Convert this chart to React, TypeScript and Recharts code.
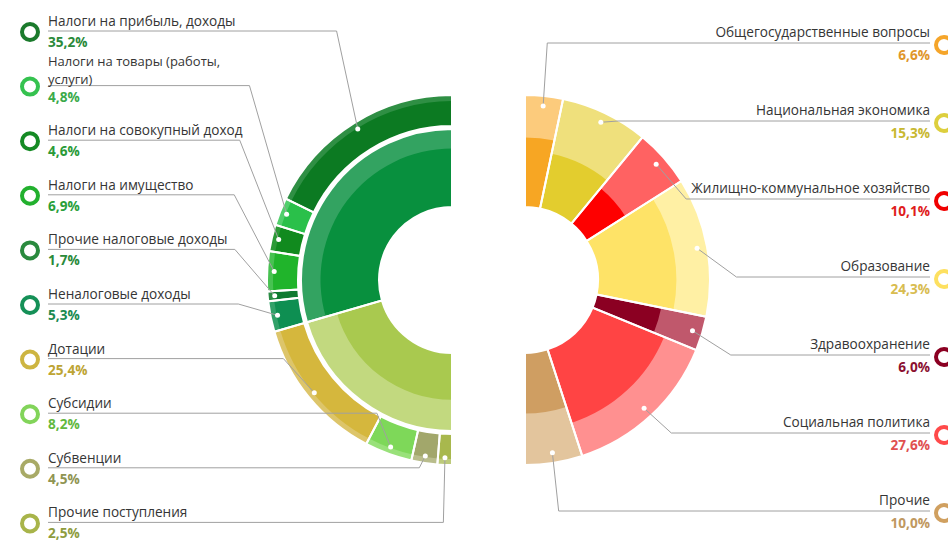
import { PieChart, Pie, Cell } from 'recharts';

// Доходы: наружное кольцо (по статьям), доли в %
const incomeNames = [
  'Налоги на прибыль, доходы',
  'Налоги на товары (работы,\nуслуги)',
  'Налоги на совокупный доход',
  'Налоги на имущество',
  'Прочие налоговые доходы',
  'Неналоговые доходы',
  'Дотации',
  'Субсидии',
  'Субвенции',
  'Прочие поступления',
];
const incomeShares = [35.2, 4.8, 4.6, 6.9, 1.7, 5.3, 25.4, 8.2, 4.5, 2.5];
const incomeLabels = ['35,2%', '4,8%', '4,6%', '6,9%', '1,7%', '5,3%', '25,4%', '8,2%', '4,5%', '2,5%'];
// 0 — налоговые и неналоговые, 1 — безвозмездные поступления
const incomeGroups = [0, 0, 0, 0, 0, 0, 1, 1, 1, 1];
const groupNames = ['Налоговые и неналоговые доходы', 'Безвозмездные поступления'];
const groupExec = [0.75, 0.6];

// Расходы
const spendNames = [
  'Общегосударственные вопросы',
  'Национальная экономика',
  'Жилищно-коммунальное хозяйство',
  'Образование',
  'Здравоохранение',
  'Социальная политика',
  'Прочие',
];
const spendShares = [6.6, 15.3, 10.1, 24.3, 6.0, 27.6, 10.0];
const spendLabels = ['6,6%', '15,3%', '10,1%', '24,3%', '6,0%', '27,6%', '10,0%'];
const spendExec = [0.62, 0.5, 0.41, 0.7, 0.59, 0.69, 0.54];

// цвета
const incomeDark = ['#0c7a22', '#2ac04a', '#118a1e', '#20b42b', '#0e7a30', '#0e8f52', '#d5b73d', '#7ed859', '#a2a76b', '#a8b84d'];
const incomeLight = ['#2f8f44', '#52cf6c', '#2c9a37', '#47c251', '#2b8c45', '#31a169', '#ddc56a', '#99e17a', '#b9bd8c', '#bdca7b'];
const incomeRing = ['#1b7a2c', '#35c24f', '#158a24', '#22b02e', '#2a8a3e', '#159057', '#cdb541', '#82d45a', '#a8aa66', '#a8b44a'];
const incomeValue = ['#2a8a3a', '#3aaa4a', '#2a9a38', '#2aa03a', '#2a8a3a', '#1a8a50', '#bda433', '#62b83e', '#8f9452', '#8e9c3e'];
const groupDark = ['#08903e', '#a9c94f'];
const groupLight = ['#33a361', '#c2d97f'];

const spendDark = ['#f7a623', '#e3cd2e', '#fe0000', '#fee367', '#8b0022', '#ff4444', '#cf9e62'];
const spendLight = ['#fccb7c', '#efe07c', '#ff6262', '#fff0a4', '#c0586c', '#ff9090', '#e3c59d'];
const spendRing = ['#f5a52a', '#ddcf3e', '#f00000', '#fde060', '#8b0022', '#ff4a4a', '#d0a060'];
const spendValue = ['#e0962a', '#c8b830', '#e01c1c', '#d8bc50', '#8b1030', '#e05050', '#c09860'];

const LCX = 452;
const RCX = 525;
const CY = 280;
const HOLE = 73;
const IN_OUT = 151;
const OUT_IN = 154;
const OUT_OUT = 185;
const RADIAN = Math.PI / 180;
const FONT = "'Open Sans', 'Noto Sans', sans-serif";
const FS = 13.6;

const incomeData = incomeNames.map((name, i) => ({ name, value: incomeShares[i] }));
const groupData = groupNames.map((name, g) => ({
  name,
  value: incomeShares.reduce((s, v, i) => (incomeGroups[i] === g ? s + v : s), 0),
}));
const spendData = spendNames.map((name, i) => ({ name, value: spendShares[i] }));

function makeLabel(side: 'left' | 'right') {
  return (p: any) => {
    const { cx, cy, midAngle, outerRadius, index } = p;
    const cos = Math.cos(-midAngle * RADIAN);
    const sin = Math.sin(-midAngle * RADIAN);
    const r = outerRadius - (side === 'left' ? 7 : 10);
    const dx = cx + r * cos;
    const dy = cy + r * sin;
    const lineY = side === 'left' ? 31 + index * 54.6 : 43 + index * 78;
    const ex = dx + 40 * cos;
    const tx = side === 'left' ? 48 : 930;
    const names = (side === 'left' ? incomeNames[index] : spendNames[index]).split('\n');
    const value = side === 'left' ? incomeLabels[index] : spendLabels[index];
    const anchor = side === 'left' ? 'start' : 'end';
    const multi = names.length > 1;
    const step = 18;
    const lastY = lineY - (side === 'left' ? (multi ? 1.6 : 5) : 6);
    return (
      <g key={`lbl-${side}-${index}`}>
        <polyline
          points={`${dx},${dy} ${ex},${lineY} ${tx},${lineY}`}
          fill="none"
          stroke="#a0a0a0"
          strokeWidth={1}
        />
        <circle cx={dx} cy={dy} r={2.5} fill="#fff" />
        <circle
          cx={side === 'left' ? 30 : 944}
          cy={lineY + (side === 'left' ? 1 : 2)}
          r={8}
          fill="none"
          stroke={side === 'left' ? incomeRing[index] : spendRing[index]}
          strokeWidth={4}
        />
        {names.map((t, k) => (
          <text
            key={k}
            x={tx}
            y={lastY - (names.length - 1 - k) * step}
            textAnchor={anchor}
            fontFamily={FONT}
            fontSize={multi ? 13 : FS}
            fill="#353535"
          >
            {t}
          </text>
        ))}
        <text
          x={tx}
          y={lineY + (side === 'left' ? 16 : 17)}
          textAnchor={anchor}
          fontFamily={FONT}
          fontSize={FS}
          fontWeight="bold"
          fill={side === 'left' ? incomeValue[index] : spendValue[index]}
        >
          {value}
        </text>
      </g>
    );
  };
}

export default function App() {
  return (
    <div style={{ position: 'absolute', left: 0, top: 0, background: '#fff' }}>
      <PieChart width={948} height={542} margin={{ top: 0, right: 0, bottom: 0, left: 0 }}>
        {/* доходы: внутреннее кольцо */}
        <Pie data={groupData} dataKey="value" cx={LCX} cy={CY} innerRadius={HOLE} outerRadius={IN_OUT}
          startAngle={90} endAngle={270} stroke="none" isAnimationActive={false}>
          {groupData.map((_, i) => <Cell key={i} fill={groupLight[i]} />)}
        </Pie>
        {groupNames.map((_, g) => (
          <Pie key={`gx-${g}`} data={groupData} dataKey="value" cx={LCX} cy={CY} innerRadius={HOLE}
            outerRadius={HOLE + groupExec[g] * (IN_OUT - HOLE)} startAngle={90} endAngle={270}
            stroke="none" isAnimationActive={false}>
            {groupData.map((_, i) => <Cell key={i} fill={i === g ? groupDark[i] : 'transparent'} />)}
          </Pie>
        ))}
        <Pie data={groupData} dataKey="value" cx={LCX} cy={CY} innerRadius={HOLE} outerRadius={IN_OUT}
          startAngle={90} endAngle={270} isAnimationActive={false}>
          {groupData.map((_, i) => <Cell key={i} fill="none" stroke="#fff" strokeWidth={2} />)}
        </Pie>

        {/* доходы: наружное кольцо */}
        <Pie data={incomeData} dataKey="value" cx={LCX} cy={CY} innerRadius={OUT_IN} outerRadius={OUT_OUT}
          startAngle={90} endAngle={270} stroke="none" isAnimationActive={false}>
          {incomeData.map((_, i) => <Cell key={i} fill={incomeLight[i]} />)}
        </Pie>
        <Pie data={incomeData} dataKey="value" cx={LCX} cy={CY} innerRadius={OUT_IN} outerRadius={OUT_OUT - 6}
          startAngle={90} endAngle={270} stroke="none" isAnimationActive={false}>
          {incomeData.map((_, i) => <Cell key={i} fill={incomeDark[i]} />)}
        </Pie>
        <Pie data={incomeData} dataKey="value" cx={LCX} cy={CY} innerRadius={OUT_IN} outerRadius={OUT_OUT}
          startAngle={90} endAngle={270} isAnimationActive={false} labelLine={false} label={makeLabel('left')}>
          {incomeData.map((_, i) => <Cell key={i} fill="none" stroke="#fff" strokeWidth={2} />)}
        </Pie>

        {/* расходы */}
        <Pie data={spendData} dataKey="value" cx={RCX} cy={CY} innerRadius={HOLE} outerRadius={OUT_OUT}
          startAngle={90} endAngle={-90} stroke="none" isAnimationActive={false}>
          {spendData.map((_, i) => <Cell key={i} fill={spendLight[i]} />)}
        </Pie>
        {spendNames.map((_, g) => (
          <Pie key={`sx-${g}`} data={spendData} dataKey="value" cx={RCX} cy={CY} innerRadius={HOLE}
            outerRadius={HOLE + spendExec[g] * (OUT_OUT - HOLE)} startAngle={90} endAngle={-90}
            stroke="none" isAnimationActive={false}>
            {spendData.map((_, i) => <Cell key={i} fill={i === g ? spendDark[i] : 'transparent'} />)}
          </Pie>
        ))}
        <Pie data={spendData} dataKey="value" cx={RCX} cy={CY} innerRadius={HOLE} outerRadius={OUT_OUT}
          startAngle={90} endAngle={-90} isAnimationActive={false} labelLine={false} label={makeLabel('right')}>
          {spendData.map((_, i) => <Cell key={i} fill="none" stroke="#fff" strokeWidth={2} />)}
        </Pie>
      </PieChart>
    </div>
  );
}
